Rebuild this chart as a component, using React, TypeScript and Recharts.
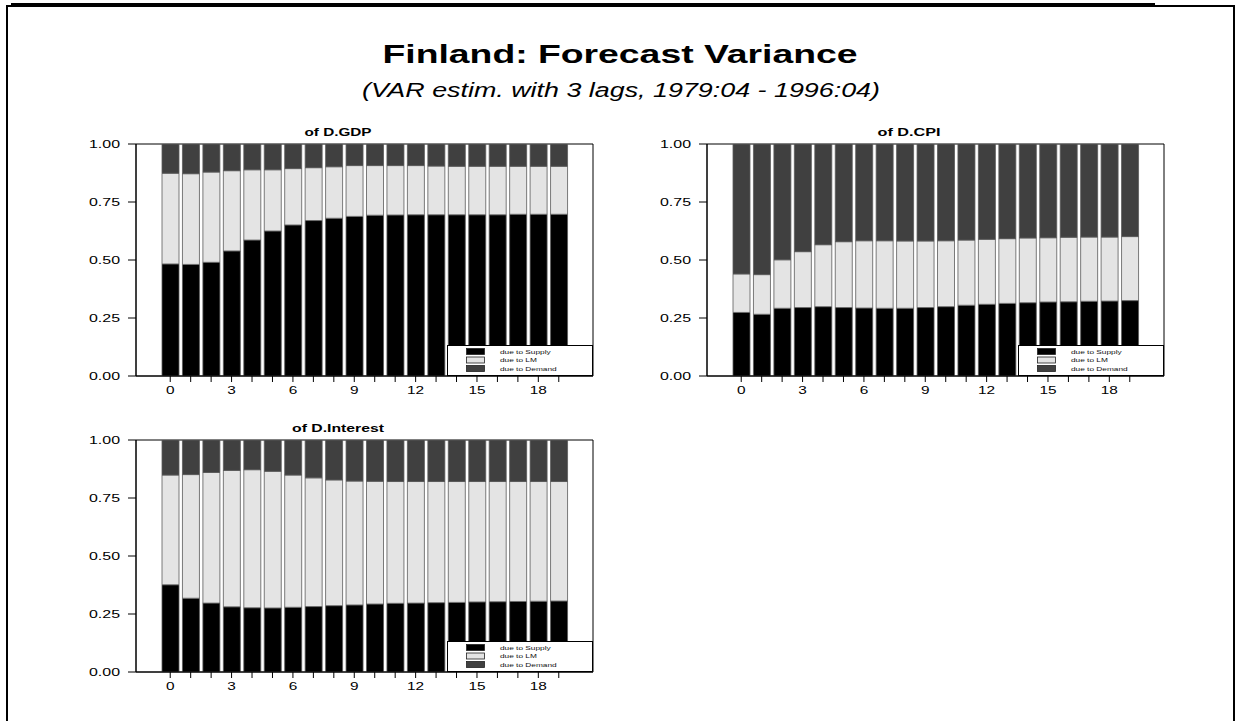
import React from 'react';
import { BarChart, Bar, XAxis, YAxis, CartesianGrid, Legend, Customized } from 'recharts';

// ---------- data ----------
const horizons = [0, 1, 2, 3, 4, 5, 6, 7, 8, 9, 10, 11, 12, 13, 14, 15, 16, 17, 18, 19];
const seriesNames = ['due to Supply', 'due to LM', 'due to Demand'];
const yTicks = [0, 0.25, 0.5, 0.75, 1];

const gdpSupply = [0.483, 0.481, 0.490, 0.539, 0.586, 0.625, 0.651, 0.670, 0.680, 0.688, 0.693, 0.694, 0.695, 0.695, 0.695, 0.695, 0.695, 0.697, 0.697, 0.697];
const gdpLM = [0.391, 0.391, 0.389, 0.346, 0.303, 0.264, 0.243, 0.228, 0.222, 0.219, 0.214, 0.213, 0.212, 0.210, 0.209, 0.209, 0.209, 0.207, 0.207, 0.207];
const gdpDemand = [0.126, 0.128, 0.121, 0.115, 0.111, 0.111, 0.106, 0.102, 0.098, 0.093, 0.093, 0.093, 0.093, 0.095, 0.096, 0.096, 0.096, 0.096, 0.096, 0.096];

const cpiSupply = [0.274, 0.266, 0.292, 0.295, 0.299, 0.295, 0.293, 0.292, 0.292, 0.295, 0.299, 0.305, 0.309, 0.313, 0.316, 0.319, 0.320, 0.322, 0.323, 0.325];
const cpiLM = [0.166, 0.171, 0.209, 0.241, 0.267, 0.284, 0.290, 0.291, 0.290, 0.287, 0.284, 0.281, 0.280, 0.279, 0.279, 0.277, 0.278, 0.277, 0.276, 0.276];
const cpiDemand = [0.560, 0.563, 0.499, 0.464, 0.434, 0.421, 0.417, 0.417, 0.418, 0.418, 0.417, 0.414, 0.411, 0.408, 0.405, 0.404, 0.402, 0.401, 0.401, 0.399];

const intSupply = [0.376, 0.318, 0.297, 0.281, 0.277, 0.276, 0.279, 0.282, 0.286, 0.289, 0.293, 0.296, 0.297, 0.299, 0.300, 0.302, 0.303, 0.304, 0.305, 0.306];
const intLM = [0.473, 0.533, 0.563, 0.588, 0.595, 0.589, 0.570, 0.555, 0.542, 0.534, 0.529, 0.525, 0.524, 0.522, 0.521, 0.519, 0.518, 0.517, 0.516, 0.515];
const intDemand = [0.151, 0.149, 0.140, 0.131, 0.128, 0.135, 0.151, 0.163, 0.172, 0.177, 0.178, 0.179, 0.179, 0.179, 0.179, 0.179, 0.179, 0.179, 0.179, 0.179];

const buildRows = (s: number[], l: number[], d: number[]) =>
  horizons.map((h, i) => ({ h, supply: s[i], lm: l[i], demand: d[i] }));

const gdpData = buildRows(gdpSupply, gdpLM, gdpDemand);
const cpiData = buildRows(cpiSupply, cpiLM, cpiDemand);
const intData = buildRows(intSupply, intLM, intDemand);

// ---------- styling ----------
const FONT = '"Liberation Sans", Arial, Helvetica, sans-serif';
const COLORS = ['#000000', '#e4e4e4', '#404040'];
const BAR_STROKE = '#5a5a5a';

let measureCtx: CanvasRenderingContext2D | null = null;
function textWidth(text: string, font: string) {
  if (!measureCtx) measureCtx = document.createElement('canvas').getContext('2d');
  if (!measureCtx) return text.length * 6;
  measureCtx.font = font;
  return measureCtx.measureText(text).width;
}

function SText(props: any) {
  const { x, y, text, size, weight = 'normal', italic = false, anchor = 'middle', stretch = 1.42, length, fill = '#000', dy } = props;
  const w = length ?? textWidth(text, `${italic ? 'italic ' : ''}${weight} ${size}px ${FONT}`) * stretch;
  return (
    <text
      x={x}
      y={y}
      dy={dy}
      fontFamily={FONT}
      fontSize={size}
      fontWeight={weight}
      fontStyle={italic ? 'italic' : 'normal'}
      textAnchor={anchor}
      textLength={w}
      lengthAdjust="spacingAndGlyphs"
      fill={fill}
    >
      {text}
    </text>
  );
}

function YTick(props: any) {
  const { x, y, payload } = props;
  return <SText x={x} y={y} dy="0.36em" text={Number(payload.value).toFixed(2)} size={11} anchor="end" length={31} />;
}

function XTick(props: any) {
  const { x, y, payload } = props;
  const v = Number(payload.value);
  if (v % 3 !== 0) return <g />;
  return <SText x={x} y={y} dy="0.71em" text={String(v)} size={11} anchor="middle" stretch={1.4} />;
}

function LegendBox() {
  return (
    <svg width={146} height={31} style={{ display: 'block' }}>
      <rect x={0.5} y={0.5} width={145} height={30} fill="#fff" stroke="#000" strokeWidth={1} />
      {seriesNames.map((n, i) => (
        <g key={n}>
          <rect x={19.5} y={3.5 + i * 8.5} width={18} height={6} fill={COLORS[i]} stroke="#222" strokeWidth={0.8} />
          <SText x={53} y={8.8 + i * 8.5} text={n} size={6} anchor="start" fill="#111" stretch={1.38} />
        </g>
      ))}
    </svg>
  );
}

function Panel(props: any) {
  const { left, top, title, titleLen, data } = props;
  return (
    <div style={{ position: 'absolute', left, top }}>
      <BarChart width={560} height={290} data={data} margin={{ top: 24, right: 27, bottom: 4, left: 0 }} barSize={17}>
        <CartesianGrid
          stroke="#000"
          strokeWidth={1}
          fill="none"
          horizontalCoordinatesGenerator={({ offset }: any) => [offset.top, offset.top + offset.height]}
          verticalCoordinatesGenerator={({ offset }: any) => [offset.left, offset.left + offset.width]}
        />
        <XAxis
          dataKey="h"
          type="category"
          interval={0}
          padding={{ left: 24, right: 24 }}
          height={30}
          tickSize={6}
          tickMargin={4}
          axisLine={{ stroke: '#000' }}
          tickLine={{ stroke: '#000' }}
          tick={<XTick />}
        />
        <YAxis
          width={76}
          type="number"
          domain={[0, 1]}
          ticks={yTicks}
          allowDataOverflow
          tickSize={8}
          tickMargin={8}
          axisLine={{ stroke: '#000' }}
          tickLine={{ stroke: '#000' }}
          tick={<YTick />}
        />
        <Bar dataKey="supply" name={seriesNames[0]} stackId="s" fill={COLORS[0]} stroke={BAR_STROKE} strokeWidth={0.8} isAnimationActive={false} />
        <Bar dataKey="lm" name={seriesNames[1]} stackId="s" fill={COLORS[1]} stroke={BAR_STROKE} strokeWidth={0.8} isAnimationActive={false} />
        <Bar dataKey="demand" name={seriesNames[2]} stackId="s" fill={COLORS[2]} stroke={BAR_STROKE} strokeWidth={0.8} isAnimationActive={false} />
        <Legend
          layout="horizontal"
          verticalAlign="middle"
          align="center"
          wrapperStyle={{ left: 387, top: 225, width: 146, height: 31 }}
          content={<LegendBox />}
        />
        <Customized component={() => <SText x={278} y={16} text={title} size={11} weight="bold" length={titleLen} />} />
      </BarChart>
    </div>
  );
}

export default function App() {
  return (
    <div style={{ position: 'absolute', left: 0, top: 0, width: 1237, height: 721, background: '#fff', overflow: 'hidden' }}>
      <div style={{ position: 'absolute', left: 6, top: 5, width: 1229, height: 800, border: '2px solid #000', boxSizing: 'border-box' }} />
      <div style={{ position: 'absolute', left: 11, top: 3, width: 1144, height: 4, background: '#000' }} />
      <svg width={1237} height={120} style={{ position: 'absolute', left: 0, top: 0 }}>
        <SText x={620} y={63} text="Finland: Forecast Variance" size={25} weight="bold" length={475} />
        <SText x={621} y={97} text="(VAR estim. with 3 lags, 1979:04 - 1996:04)" size={20} italic length={518} />
      </svg>
      <Panel left={60} top={120} title="of D.GDP" titleLen={67} data={gdpData} />
      <Panel left={631} top={120} title="of D.CPI" titleLen={63} data={cpiData} />
      <Panel left={60} top={416} title="of D.Interest" titleLen={92} data={intData} />
    </div>
  );
}
